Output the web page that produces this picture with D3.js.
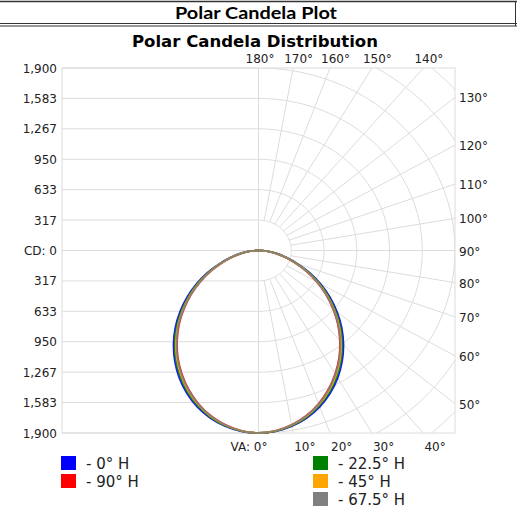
<!DOCTYPE html>
<html>
<head>
<meta charset="utf-8">
<script src="https://cdn.jsdelivr.net/npm/d3@7"></script>
<style>
  body { margin: 0; background: #fff; }
  svg { display: block; font-family: "DejaVu Sans", Verdana, sans-serif; }
</style>
</head>
<body>
<div id="chart"></div>
<script>
// ---- data ----
const vAngles = [0, 5, 10, 15, 20, 25, 30, 35, 40, 45, 50, 55, 60, 65, 70, 75, 80, 85, 90];
const cd0   = [1900, 1890, 1858, 1805, 1732, 1640, 1532, 1410, 1278, 1138, 990, 840, 690, 545, 400, 278, 178, 84, 0];
const cd225 = [1900, 1888, 1853, 1797, 1720, 1625, 1515, 1392, 1260, 1120, 972, 823, 675, 532, 390, 272, 174, 82, 0];
const cd45  = [1900, 1886, 1848, 1789, 1709, 1611, 1499, 1376, 1242, 1102, 955, 807, 660, 520, 381, 266, 170, 80, 0];
const cd675 = [1900, 1885, 1845, 1784, 1702, 1602, 1489, 1365, 1231, 1092, 945, 798, 652, 513, 376, 263, 168, 79, 0];
const cd90  = [1900, 1884, 1843, 1781, 1698, 1597, 1483, 1359, 1224, 1085, 938, 792, 646, 508, 372, 260, 166, 78, 0];

// legend / draw order: 0, 90, 22.5, 45, 67.5
const seriesNames = ["- 0° H", "- 90° H", "- 22.5° H", "- 45° H", "- 67.5° H"];
const seriesColors = ["#0000ff", "#ff0000", "#008000", "#ffa500", "#808080"];
const seriesValues = [cd0, cd90, cd225, cd45, cd675];

const cdTicks = [1900, 1583, 1267, 950, 633, 317, 0, -317, -633, -950, -1267, -1583, -1900];
const gridAngles = d3.range(0, 181, 10);

// ---- setup ----
const width = 517, height = 512;
const svg = d3.select('#chart').append('svg')
  .attr('width', width).attr('height', height);

const box = { left: 62, right: 455, top: 68, bottom: 433 };
const maxCd = 1900;

const x = d3.scaleLinear().domain([-maxCd, maxCd]).range([box.left, box.right]);
const y = d3.scaleLinear().domain([-maxCd, maxCd]).range([box.bottom, box.top]);

// vertical angle: 0 points down, 180 points up
const px = (a, r) => x(r * Math.sin(a * Math.PI / 180));
const py = (a, r) => y(-r * Math.cos(a * Math.PI / 180));

const grid = '#dcdcdc';

// ---- header ----
svg.append('line').attr('x1', 0).attr('x2', width).attr('y1', 1.5).attr('y2', 1.5)
  .attr('stroke', '#333').attr('stroke-width', 1.5);
svg.append('line').attr('x1', 0).attr('x2', width).attr('y1', 23.5).attr('y2', 23.5)
  .attr('stroke', '#333').attr('stroke-width', 1);
svg.append('line').attr('x1', 0).attr('x2', width).attr('y1', 26).attr('y2', 26)
  .attr('stroke', '#333').attr('stroke-width', 1);
svg.append('line').attr('x1', 515.5).attr('x2', 515.5).attr('y1', 1).attr('y2', 26)
  .attr('stroke', '#333').attr('stroke-width', 1);
svg.append('text').attr('x', 256).attr('y', 19)
  .attr('text-anchor', 'middle')
  .style('font-family', 'Lato, "Open Sans", sans-serif')
  .style('font-weight', 'bold').style('font-size', '17px')
  .attr('textLength', 162).attr('lengthAdjust', 'spacingAndGlyphs')
  .text('Polar Candela Plot');

svg.append('text').attr('x', 255).attr('y', 47)
  .attr('text-anchor', 'middle')
  .style('font-weight', 'bold').style('font-size', '15px')
  .attr('textLength', 246).attr('lengthAdjust', 'spacingAndGlyphs')
  .text('Polar Candela Distribution');

// ---- grid ----
const cx0 = x(0);
svg.append('clipPath').attr('id', 'rightHalf')
  .append('rect').attr('x', cx0).attr('y', box.top)
  .attr('width', box.right - cx0).attr('height', box.bottom - box.top);

// horizontal lines on the left half
svg.append('g').selectAll('line').data(cdTicks).join('line')
  .attr('x1', box.left).attr('x2', cx0)
  .attr('y1', d => y(d)).attr('y2', d => y(d))
  .attr('stroke', grid).attr('stroke-width', 1);

const polarGrid = svg.append('g').attr('clip-path', 'url(#rightHalf)');
const arcRadii = d3.range(1, 10).map(i => i * maxCd / 6);
const arcLine = d3.line();
polarGrid.selectAll('path.arc').data(arcRadii).join('path')
  .attr('class', 'arc')
  .attr('d', r => arcLine(d3.range(0, 181, 2).map(a => [px(a, r), py(a, r)])))
  .attr('fill', 'none').attr('stroke', grid).attr('stroke-width', 1);

polarGrid.selectAll('line.spoke').data(gridAngles).join('line')
  .attr('class', 'spoke')
  .attr('x1', a => px(a, maxCd / 6)).attr('y1', a => py(a, maxCd / 6))
  .attr('x2', a => px(a, 4000)).attr('y2', a => py(a, 4000))
  .attr('stroke', grid).attr('stroke-width', 1);

// box + center line
svg.append('rect').attr('x', box.left).attr('y', box.top)
  .attr('width', box.right - box.left).attr('height', box.bottom - box.top)
  .attr('fill', 'none').attr('stroke', grid);
svg.append('line').attr('x1', cx0).attr('x2', cx0).attr('y1', box.top).attr('y2', box.bottom)
  .attr('stroke', grid);

// ---- candela axis labels ----
const fmt = d3.format(',');
svg.append('g').selectAll('text').data(cdTicks).join('text')
  .attr('x', 57).attr('y', d => y(d) + 4.5)
  .attr('text-anchor', 'end')
  .style('font-size', '12px').attr('fill', '#222')
  .text(d => d === 0 ? 'CD: 0' : fmt(Math.abs(d)));

// ---- angle labels where spokes meet the box ----
function edgePoint(a) {
  const s = Math.sin(a * Math.PI / 180), c = Math.cos(a * Math.PI / 180);
  const tx = s > 1e-9 ? maxCd / s : Infinity;
  const ty = Math.abs(c) > 1e-9 ? maxCd / Math.abs(c) : Infinity;
  const t = Math.min(tx, ty);
  return { x: px(a, t), y: py(a, t), side: tx < ty ? 'right' : (c > 0 ? 'bottom' : 'top') };
}
const labels = svg.append('g').style('font-size', '12px').attr('fill', '#222');
gridAngles.forEach(a => {
  const p = edgePoint(a);
  const t = labels.append('text');
  if (p.side === 'right') {
    t.attr('x', box.right + 4).attr('y', p.y + 5).text(a + '°');
  } else if (p.side === 'top') {
    t.attr('x', p.x - (a === 180 ? 13 : 9)).attr('y', 63).text(a + '°');
  } else {
    if (a === 0) t.attr('x', p.x + 9).attr('y', 451).attr('text-anchor', 'end').text('VA: 0°');
    else t.attr('x', p.x + 1).attr('y', 451).text(a + '°');
  }
});

// ---- curves (each plane mirrored to the left) ----
const curve = d3.line().curve(d3.curveCardinalClosed);
const curvesG = svg.append('g');
seriesValues.forEach((vals, i) => {
  const right = vAngles.map((a, k) => [px(a, vals[k]), py(a, vals[k])]);
  const left = vAngles.map((a, k) => [px(-a, vals[k]), py(-a, vals[k])]).reverse();
  curvesG.append('path')
    .attr('d', curve(left.concat(right.slice(1, -1))))
    .attr('fill', 'none').attr('stroke', seriesColors[i])
    .attr('stroke-width', 1.8).attr('stroke-opacity', 0.9);
});

// ---- legend ----
const legendPos = [
  { x: 61, y: 456 }, { x: 61, y: 474 }, { x: 313, y: 456 }, { x: 313, y: 474 }, { x: 313, y: 492 }
];
const legend = svg.append('g').selectAll('g').data(seriesNames).join('g')
  .attr('transform', (d, i) => `translate(${legendPos[i].x},${legendPos[i].y})`);
legend.append('rect').attr('width', 15).attr('height', 14)
  .attr('fill', (d, i) => seriesColors[i]);
legend.append('text').attr('x', 25).attr('y', 12.5)
  .style('font-size', '15px').attr('fill', '#222')
  .text(d => d);
</script>
</body>
</html>
